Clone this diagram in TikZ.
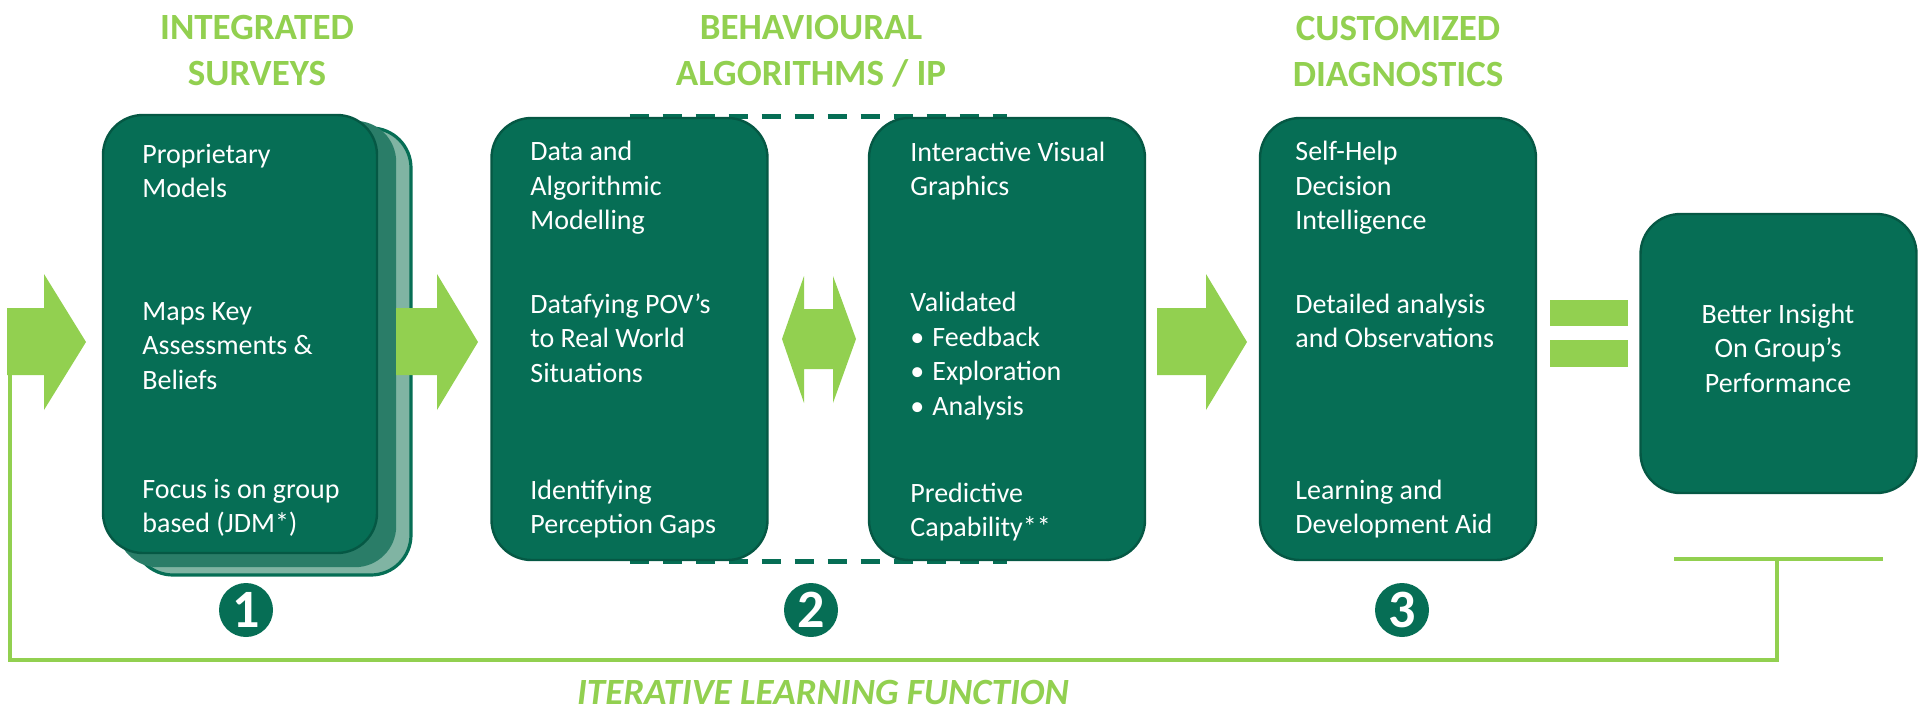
\documentclass[tikz,border=0pt]{standalone}
\usepackage{fontspec}
\setmainfont{Carlito}
\usetikzlibrary{backgrounds}

\definecolor{dgreen}{HTML}{066E55}
\definecolor{lgreen}{HTML}{92D050}
\definecolor{mgreen}{HTML}{2A7D68}
\definecolor{pgreen}{HTML}{80B4A3}

\begin{document}
\begin{tikzpicture}[x=0.5pt,y=-0.5pt,
	box/.style={draw=dgreen!80!black, line width=1.2pt, fill=dgreen, rounded corners=20pt, inner sep=0pt, minimum width=138pt, minimum height=221pt},
	txt/.style={text=white, anchor=west, align=left, inner sep=0pt, font=\fontsize{14}{17.25}\selectfont},
	title/.style={text=lgreen, align=center, inner sep=0pt, font=\fontsize{18.5}{23}\selectfont\bfseries},
	numdot/.style={circle, fill=dgreen, text=white, minimum size=27pt, inner sep=0pt, font=\fontsize{27}{27}\selectfont\bfseries}]
	\useasboundingbox (0,0) rectangle (1920,712);

	% titles
	\node[title] (h1) at (257,51)  {INTEGRATED\\SURVEYS};
	\node[title] (h2) at (811,51)  {BEHAVIOURAL\\ALGORITHMS / IP};
	\node[title] (h3) at (1398,51) {CUSTOMIZED\\DIAGNOSTICS};

	% stacked box 1
	\node[box, draw=dgreen, line width=1.6pt, fill=pgreen, minimum width=139pt, minimum height=223.5pt] (b1c) at (272,351.5) {};
	\node[box, draw=mgreen, fill=mgreen, minimum width=138.5pt, minimum height=222pt] (b1b) at (256.5,344) {};
	\node[box, minimum width=137pt, minimum height=219pt] (b1) at (240,334) {};

	\node[box] (b2) at (629.5,339) {};
	\node[box] (b3) at (1007,339)  {};
	\node[box] (b4) at (1398,339)  {};
	\node[box, minimum height=139.5pt] (b5) at (1778.5,353.5) {};

	\begin{scope}[on background layer]
		\draw[dgreen, line width=2.5pt, dash pattern=on 9.5pt off 7pt] (b2.north) -- (b3.north);
		\draw[dgreen, line width=2.5pt, dash pattern=on 9.5pt off 7pt] (b2.south) -- (b3.south);
	\end{scope}

	% box texts
	\node[txt] (t11) at (142,171) {Proprietary\\Models};
	\node[txt] (t12) at (142,346) {Maps Key\\Assessments \&\\Beliefs};
	\node[txt] (t13) at (142,508) {Focus is on group\\based (JDM*)};

	\node[txt] (t21) at (530,188) {Data and\\Algorithmic\\Modelling};
	\node[txt] (t22) at (530,338) {Datafying POV’s\\to Real World\\Situations};
	\node[txt] (t23) at (530,509) {Identifying\\Perception Gaps};

	\node[txt] (t31) at (910,171) {Interactive Visual\\Graphics};
	\node[txt] (t32) at (910,356) {Validated\\\textbullet\hspace{4pt}Feedback\\\textbullet\hspace{4pt}Exploration\\\textbullet\hspace{4pt}Analysis};
	\node[txt] (t33) at (910,512) {Predictive\\Capability**};

	\node[txt] (t41) at (1295,188) {Self-Help\\Decision\\Intelligence};
	\node[txt] (t42) at (1295,321) {Detailed analysis\\and Observations};
	\node[txt] (t43) at (1295,509) {Learning and\\Development Aid};

	\node[txt, anchor=center, align=center] (t51) at (1778,348) {Better Insight\\On Group’s\\Performance};

	% block arrows
	\foreach \xa/\xb/\xc in {7/44/86, 396/437/478, 1157/1206/1247}
	{	\fill[lgreen] (\xa,308) -- (\xb,308) -- (\xb,274) -- (\xc,342) -- (\xb,410) -- (\xb,375) -- (\xa,375) -- cycle;
	}
	\fill[lgreen] (782,339) -- (804,276) -- (804,309) -- (833,309) -- (833,276) -- (856,339)
		-- (833,403) -- (833,369) -- (804,369) -- (804,403) -- cycle;

	% equals sign
	\fill[lgreen] (1550,300) rectangle (1628,326);
	\fill[lgreen] (1550,340) rectangle (1628,367);

	% step numbers
	\foreach \n/\x in {1/246, 2/811, 3/1402}
	{	\node[numdot] (n\n) at (\x,610) {\n};
	}

	% feedback loop
	\coordinate (fa) at (10,375);
	\coordinate (fb) at (1777,559);
	\coordinate (fl) at (1674,559);
	\coordinate (fr) at (1883,559);
	\draw[lgreen, line width=2pt] (fa) |- (1777,660) -- (fb);
	\draw[lgreen, line width=2pt] (fl) -- (fr);
	\node[text=lgreen, inner sep=0pt, font=\fontsize{18.5}{23}\selectfont\bfseries\itshape] (loop) at (823,692) {ITERATIVE LEARNING FUNCTION};
\end{tikzpicture}
\end{document}
